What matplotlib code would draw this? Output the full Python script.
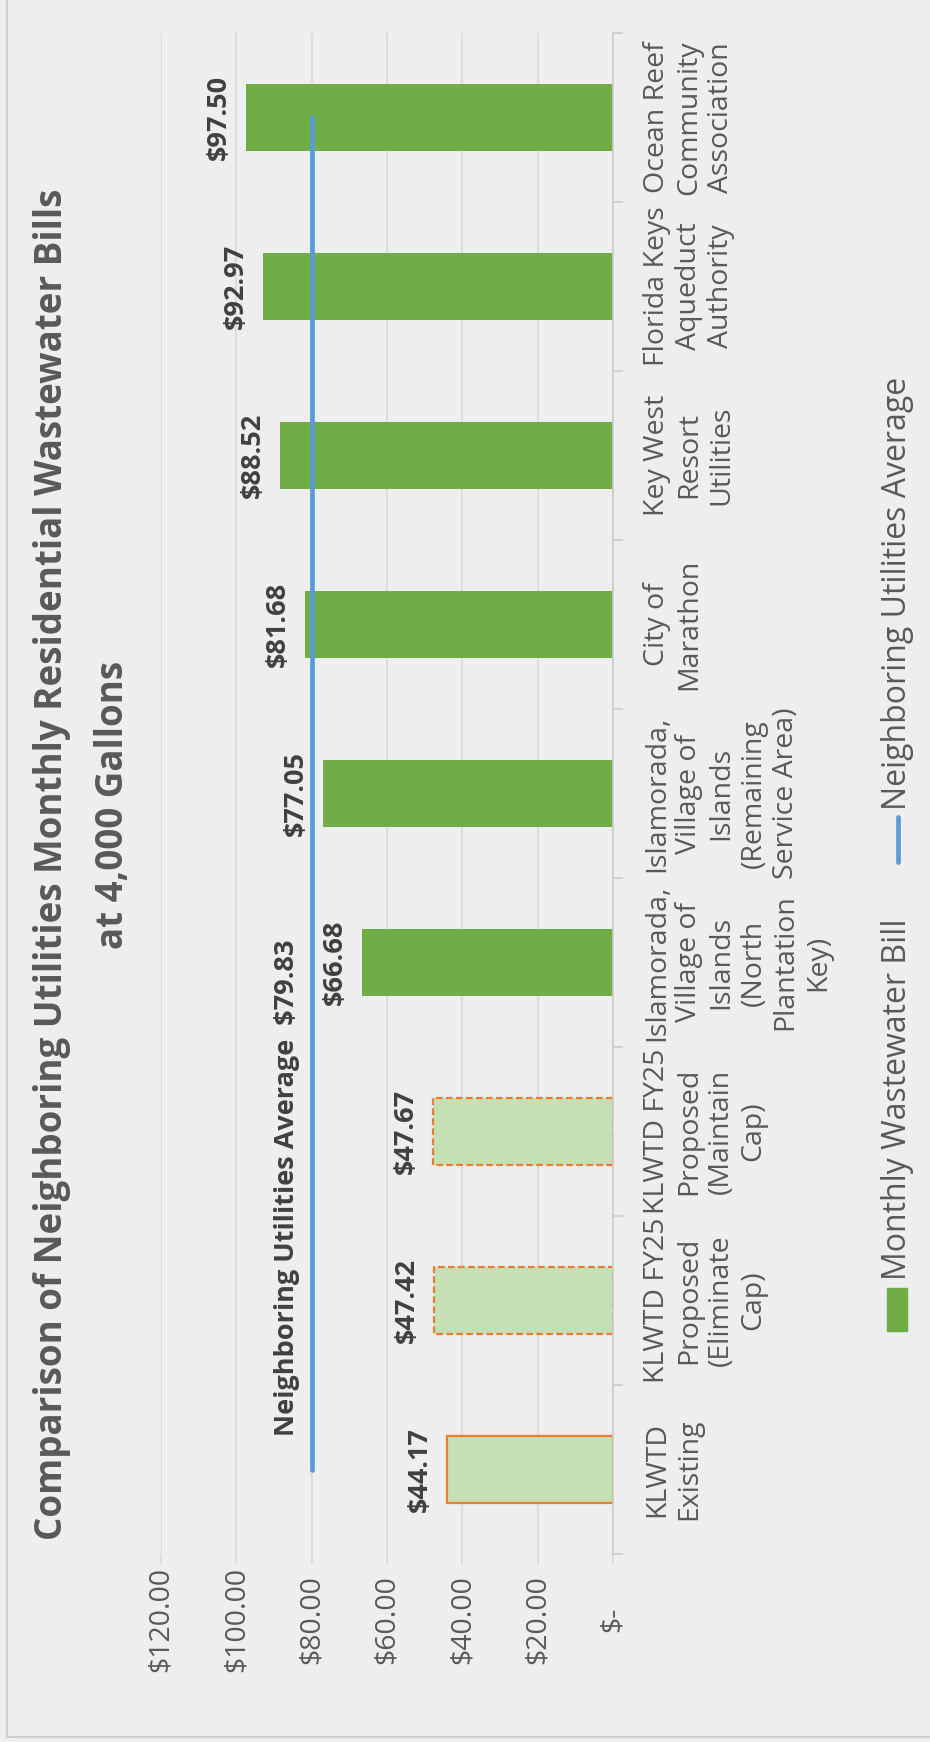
import matplotlib
matplotlib.use('Agg')
import matplotlib.pyplot as plt
from matplotlib.patches import Rectangle
from matplotlib.lines import Line2D

plt.rcParams['font.family'] = ['Open Sans', 'DejaVu Sans']

categories = ['KLWTD\nExisting',
              'KLWTD FY25\nProposed\n(Eliminate\nCap)',
              'KLWTD FY25\nProposed\n(Maintain\nCap)',
              'Islamorada,\nVillage of\nIslands\n(North\nPlantation\nKey)',
              'Islamorada,\nVillage of\nIslands\n(Remaining\nService Area)',
              'City of\nMarathon',
              'Key West\nResort\nUtilities',
              'Florida Keys\nAqueduct\nAuthority',
              'Ocean Reef\nCommunity\nAssociation']
bills = [44.17, 47.42, 47.67, 66.68, 77.05, 81.68, 88.52, 92.97, 97.50]
average = 79.83
value_ticks = [0, 20, 40, 60, 80, 100, 120]
value_labels = ['$-', '$20.00', '$40.00', '$60.00', '$80.00', '$100.00', '$120.00']

BG = '#EEEEEE'
TXT = '#595959'
GRID = '#D9D9D9'
GREEN = '#70AD47'
LIGHT = '#C5E0B4'
ORANGE = '#ED7D31'
BLUE = '#5B9BD5'

W, H = 930, 1742
fig = plt.figure(figsize=(W / 100, H / 100), dpi=100, facecolor=BG)

def fx(px):
    return px / W

def fy(py):
    return 1 - py / H

# plot area: value 120 at x=161, 0 at x=613; categories from y=33 to y=1554
ax = fig.add_axes([fx(161), fy(1554), fx(613) - fx(161), fy(33) - fy(1554)])
ax.set_facecolor(BG)

ypos = list(range(len(categories)))
colors = [LIGHT, LIGHT, LIGHT] + [GREEN] * 6
bars = ax.barh(ypos, bills, height=0.4, color=colors, zorder=2)
for i in range(3):
    bars[i].set_edgecolor(ORANGE)
    bars[i].set_linewidth(1.6)
    if i > 0:
        bars[i].set_linestyle((0, (3, 1.5)))

ax.plot([average, average], [ypos[0], ypos[-1]], color=BLUE, lw=3.4,
        solid_capstyle='round', zorder=3)

for i, v in enumerate(bills):
    ax.annotate('$%.2f' % v, xy=(v, i), xytext=(-19.5, 0), textcoords='offset points',
                rotation=90, ha='center', va='center', fontsize=19.5,
                fontweight='bold', color='#404040')

ax.annotate('Neighboring Utilities Average  $%.2f' % average, xy=(average, 1.666),
            xytext=(-18, 0), textcoords='offset points', rotation=90,
            ha='center', va='center', fontsize=19.5, fontweight='bold', color='#404040')

ax.set_xlim(120, 0)
ax.set_ylim(-0.5, len(categories) - 0.5)
ax.set_axisbelow(True)
ax.grid(axis='x', color=GRID, lw=1.2)

for s in ['top', 'left', 'bottom']:
    ax.spines[s].set_visible(False)
ax.spines['right'].set_color('#CCCCCC')
ax.spines['right'].set_linewidth(1.2)

ax.set_xticks(value_ticks)
ax.set_xticklabels(value_labels)
ax.tick_params(axis='x', length=7, width=1.2, color=GRID, pad=40, labelsize=20.5,
               labelcolor=TXT, labelrotation=90)
for t in ax.get_xticklabels():
    t.set_va('center')

ax.yaxis.tick_right()
ax.set_yticks(ypos)
ax.set_yticklabels(categories)
ax.set_yticks([i - 0.5 for i in range(len(categories) + 1)], minor=True)
ax.tick_params(axis='y', which='major', length=0, pad=21.5, labelsize=20.5, labelcolor=TXT)
ax.tick_params(axis='y', which='minor', length=7, width=1.2, color='#CCCCCC')
for t in ax.get_yticklabels():
    t.set_rotation(90)
    t.set_ha('left')
    t.set_va('center')
    t.set_multialignment('center')
    t.set_linespacing(1.2)

# title
fig.text(fx(52), fy(864), 'Comparison of Neighboring Utilities Monthly Residential Wastewater Bills',
         rotation=90, ha='center', va='center', fontsize=26.5, fontweight='bold', color=TXT)
fig.text(fx(113), fy(805), 'at 4,000 Gallons', rotation=90, ha='center', va='center',
         fontsize=26.5, fontweight='bold', color=TXT)

# legend
fig.add_artist(Rectangle((fx(887), fy(1331)), fx(20), fy(1288) - fy(1331),
                         transform=fig.transFigure, color=GREEN))
fig.text(fx(897), fy(1280), 'Monthly Wastewater Bill', rotation=90, ha='center',
         va='bottom', fontsize=23, color=TXT)
fig.add_artist(Line2D([fx(898), fx(898)], [fy(862), fy(817)], transform=fig.transFigure,
                      color=BLUE, lw=3.4, solid_capstyle='round'))
fig.text(fx(897), fy(810), 'Neighboring Utilities Average', rotation=90, ha='center',
         va='bottom', fontsize=23, color=TXT)

# chart border
fig.add_artist(Line2D([fx(7), fx(7)], [fy(0), fy(1737)], transform=fig.transFigure,
                      color='#D0D0D0', lw=1.5))
fig.add_artist(Line2D([fx(7), fx(930)], [fy(1737), fy(1737)], transform=fig.transFigure,
                      color='#D0D0D0', lw=1.5))

fig.savefig('out.png', dpi=100, facecolor=BG)
